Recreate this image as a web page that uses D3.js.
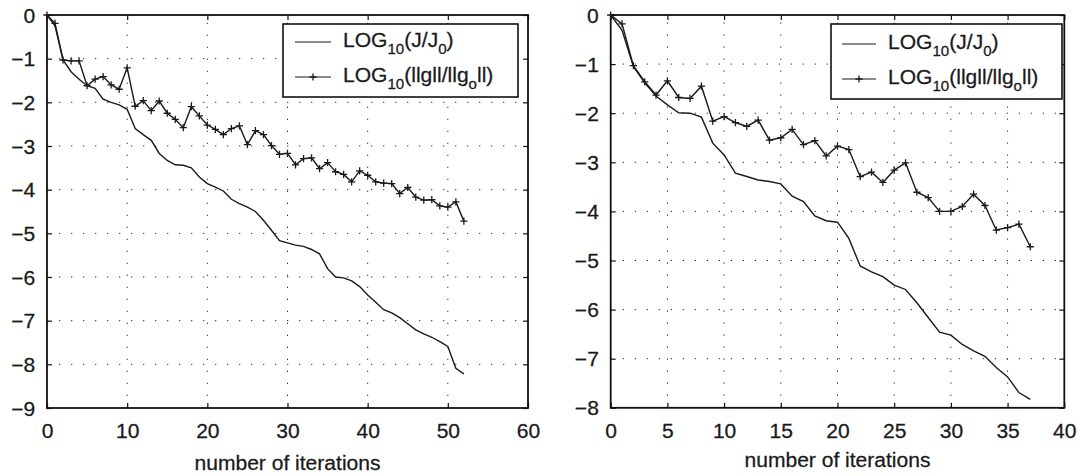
<!DOCTYPE html>
<html><head><meta charset="utf-8">
<script src="https://cdn.jsdelivr.net/npm/d3@7"></script>
<style>
html,body{margin:0;padding:0;background:#fff;}
text{font-family:"Liberation Sans",Arial,Helvetica,sans-serif;fill:#1a1a1a;stroke:#1a1a1a;stroke-width:0.25px;}
</style></head>
<body><svg id="c" width="1078" height="476"></svg>
<script>
// ---- data ----
const leftJ = [0,-0.25,-1.03,-1.30,-1.47,-1.62,-1.68,-1.93,-2.00,-2.06,-2.16,
  -2.60,-2.74,-2.87,-3.17,-3.33,-3.43,-3.44,-3.50,-3.71,-3.86,
  -3.94,-4.03,-4.22,-4.32,-4.40,-4.50,-4.70,-4.93,-5.17,-5.22,
  -5.27,-5.30,-5.37,-5.47,-5.81,-6.00,-6.02,-6.09,-6.22,-6.41,
  -6.58,-6.75,-6.82,-6.93,-7.07,-7.21,-7.30,-7.38,-7.48,-7.59,
  -8.09,-8.22];
const leftG = [0,-0.19,-1.03,-1.05,-1.05,-1.62,-1.47,-1.41,-1.60,-1.70,-1.21,
  -2.09,-1.96,-2.19,-1.97,-2.25,-2.39,-2.58,-2.10,-2.31,-2.52,
  -2.62,-2.74,-2.60,-2.54,-2.97,-2.65,-2.74,-2.99,-3.19,-3.17,
  -3.43,-3.29,-3.27,-3.52,-3.38,-3.59,-3.65,-3.82,-3.57,-3.67,
  -3.82,-3.85,-3.86,-4.09,-3.95,-4.17,-4.24,-4.23,-4.37,-4.40,
  -4.28,-4.72];
const rightJ = [0,-0.31,-1.05,-1.38,-1.65,-1.83,-1.99,-2.00,-2.08,-2.61,-2.85,
  -3.22,-3.29,-3.36,-3.39,-3.44,-3.69,-3.80,-4.09,-4.19,-4.22,
  -4.55,-5.11,-5.23,-5.33,-5.50,-5.59,-5.86,-6.16,-6.46,-6.52,
  -6.71,-6.84,-6.95,-7.18,-7.37,-7.69,-7.83];
const rightG = [0,-0.18,-1.03,-1.36,-1.63,-1.34,-1.68,-1.70,-1.45,-2.16,-2.07,
  -2.19,-2.27,-2.14,-2.55,-2.50,-2.33,-2.64,-2.56,-2.87,-2.67,
  -2.74,-3.29,-3.20,-3.41,-3.16,-3.01,-3.61,-3.72,-4.00,-4.00,
  -3.90,-3.65,-3.88,-4.38,-4.33,-4.26,-4.72];
const leftXTicks = [0,10,20,30,40,50,60];
const leftYTicks = [0,-1,-2,-3,-4,-5,-6,-7,-8,-9];
const rightXTicks = [0,5,10,15,20,25,30,35,40];
const rightYTicks = [0,-1,-2,-3,-4,-5,-6,-7,-8];
const xLabel = "number of iterations";

const svg = d3.select("#c");
const FS = 19.5;
const SX = 1.08; // horizontal text stretch seen in the reference

function panel(cfg){
  const x = d3.scaleLinear().domain(cfg.xd).range([cfg.x0, cfg.x1]);
  const y = d3.scaleLinear().domain(cfg.yd).range([cfg.y0, cfg.y1]);
  const g = svg.append("g");
  // grid
  const grid = g.append("g").attr("stroke","#333").attr("stroke-width",1)
    .attr("stroke-dasharray","1.3,10.7");
  cfg.xt.slice(1,-1).forEach(v=>{
    grid.append("line").attr("x1",x(v)).attr("x2",x(v)).attr("y1",cfg.y1).attr("y2",cfg.y0);
  });
  cfg.yt.slice(1,-1).forEach(v=>{
    grid.append("line").attr("x1",cfg.x0).attr("x2",cfg.x1).attr("y1",y(v)).attr("y2",y(v));
  });
  // axes (inward ticks, all four sides)
  const fmt = d3.format("d");
  const bottom = g.append("g").attr("transform",`translate(0,${cfg.y1})`)
    .call(d3.axisBottom(x).tickValues(cfg.xt).tickFormat(fmt).tickSizeInner(-5).tickSizeOuter(0).tickPadding(30));
  const left = g.append("g").attr("transform",`translate(${cfg.x0},0)`)
    .call(d3.axisLeft(y).tickValues(cfg.yt).tickFormat(v=>fmt(v).replace("-","\u2212")).tickSizeInner(-5).tickSizeOuter(0).tickPadding(11));
  const top = g.append("g").attr("transform",`translate(0,${cfg.y0})`)
    .call(d3.axisTop(x).tickValues(cfg.xt).tickFormat("").tickSizeInner(-5).tickSizeOuter(0));
  const right = g.append("g").attr("transform",`translate(${cfg.x1},0)`)
    .call(d3.axisRight(y).tickValues(cfg.yt).tickFormat("").tickSizeInner(-5).tickSizeOuter(0));
  [bottom,left,top,right].forEach(a=>{
    a.select(".domain").remove();
    a.selectAll(".tick line").attr("stroke","#111").attr("stroke-width",1.2);
    a.selectAll("text").attr("font-size",FS).attr("fill","#1a1a1a")
      .attr("transform",`scale(${SX},1)`)
      .style("font-family","'Liberation Sans',Arial,Helvetica,sans-serif");
  });
  bottom.selectAll("text").attr("dy","0");
  left.selectAll("text").attr("dy","0.36em");
  // frame
  g.append("rect").attr("x",cfg.x0).attr("y",cfg.y0).attr("width",cfg.x1-cfg.x0)
    .attr("height",cfg.y1-cfg.y0).attr("fill","none").attr("stroke","#111").attr("stroke-width",1.8);
  // lines
  const line = d3.line().x((d,i)=>x(i)).y(d=>y(d));
  g.append("path").datum(cfg.J).attr("d",line).attr("fill","none").attr("stroke","#1a1a1a").attr("stroke-width",1.4);
  g.append("path").datum(cfg.G).attr("d",line).attr("fill","none").attr("stroke","#1a1a1a").attr("stroke-width",1.4);
  const m = 3.6;
  g.append("g").selectAll("path.mk").data(cfg.G).join("path")
    .attr("d",(d,i)=>`M${x(i)-m},${y(d)}H${x(i)+m}M${x(i)},${y(d)-m}V${y(d)+m}`)
    .attr("stroke","#1a1a1a").attr("stroke-width",1.3);
  // x label
  g.append("text").attr("x",(cfg.x0+cfg.x1)/2/SX).attr("y",cfg.lblY).attr("text-anchor","middle")
    .attr("transform",`scale(${SX},1)`)
    .attr("font-size",FS).text(xLabel);
  // legend
  const L = cfg.leg;
  const lg = g.append("g");
  lg.append("rect").attr("x",L.x).attr("y",L.y).attr("width",L.w).attr("height",L.h)
    .attr("fill","#fff").attr("stroke","#111").attr("stroke-width",1.6);
  const rows = [
    {sub:"10", parts:[["(J/J",""],["0","sub"],[")",""]], marker:false},
    {sub:"10", parts:[["(llgll/llg",""],["o","sub"],["ll)",""]], marker:true}
  ];
  rows.forEach((r,k)=>{
    const ly = L.rowY[k];
    lg.append("line").attr("x1",L.sx0).attr("x2",L.sx1).attr("y1",ly).attr("y2",ly)
      .attr("stroke","#1a1a1a").attr("stroke-width",1.2);
    if(r.marker){
      const cx=(L.sx0+L.sx1)/2;
      lg.append("path").attr("d",`M${cx-m},${ly}H${cx+m}M${cx},${ly-m}V${ly+m}`)
        .attr("stroke","#1a1a1a").attr("stroke-width",1.3);
    }
    const t = lg.append("text").attr("x",L.tx/SX).attr("y",ly+5).attr("font-size",FS)
      .attr("transform",`scale(${SX},1)`);
    t.append("tspan").text("LOG");
    t.append("tspan").attr("font-size",14).attr("dy",7).text(r.sub);
    let shifted = 7;
    r.parts.forEach(([s,kind])=>{
      if(kind==="sub"){
        t.append("tspan").attr("font-size",14).attr("dy",7-shifted).text(s); shifted=7;
      } else {
        t.append("tspan").attr("dy",-shifted).text(s); shifted=0;
      }
    });
  });
}

panel({xd:[0,60], yd:[0,-9], x0:47, x1:528, y0:15, y1:408,
  xt:leftXTicks, yt:leftYTicks, J:leftJ, G:leftG, lblY:470,
  leg:{x:283,y:24,w:235,h:73,rowY:[42,77],sx0:295,sx1:331,tx:343}});
panel({xd:[0,40], yd:[0,-8], x0:610.7, x1:1064.3, y0:15, y1:407.8,
  xt:rightXTicks, yt:rightYTicks, J:rightJ, G:rightG, lblY:467,
  leg:{x:831,y:24,w:231,h:75,rowY:[44,79],sx0:842,sx1:876,tx:888}});
</script></body></html>
